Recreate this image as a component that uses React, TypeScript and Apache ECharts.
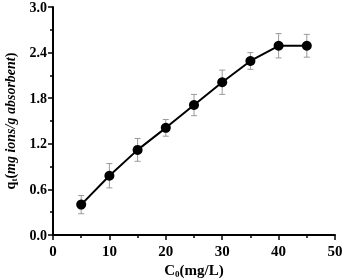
import React, { useEffect, useRef } from "react";
import * as echarts from "echarts";

const concentrations = [5, 10, 15, 20, 25, 30, 35, 40, 45];
const uptake = [0.4, 0.78, 1.12, 1.41, 1.71, 2.01, 2.29, 2.49, 2.49];
const uptakeError = [0.12, 0.16, 0.15, 0.11, 0.14, 0.16, 0.11, 0.16, 0.15];

export default function App() {
  const ref = useRef<HTMLDivElement>(null);
  useEffect(() => {
    if (!ref.current) return;
    const chart = echarts.init(ref.current, undefined, { renderer: "svg" });
    const font = "'Liberation Serif', 'Times New Roman', serif";
    const errData = concentrations.map((c, i) => [c, uptake[i] - uptakeError[i], uptake[i] + uptakeError[i]]);
    chart.setOption({
      animation: false,
      grid: { left: 53, right: 9, top: 7, bottom: 45, containLabel: false, outerBoundsMode: "none" },
      xAxis: {
        type: "value",
        min: 0,
        max: 50,
        interval: 10,
        name: "{b|C}{s|0}{b|(mg/L)}",
        nameLocation: "middle",
        nameGap: 25,
        nameTextStyle: {
          rich: {
            b: { fontFamily: font, fontWeight: "bold", fontSize: 15, color: "#000" },
            s: { fontFamily: font, fontWeight: "bold", fontSize: 9, color: "#000", verticalAlign: "bottom", padding: [8, 0, 0, 0] },
          },
        },
        splitLine: { show: false },
        axisLine: { lineStyle: { color: "#000", width: 2 } },
        axisTick: { inside: false, length: 5, lineStyle: { width: 1.5, color: "#000" } },
        minorTick: { show: true, splitNumber: 2, length: 3, lineStyle: { width: 1.5, color: "#000" } },
        axisLabel: { fontFamily: font, fontWeight: "bold", fontSize: 15, color: "#000", margin: 8 },
      },
      yAxis: {
        type: "value",
        min: 0,
        max: 3,
        interval: 0.6,
        name: "{b|q}{s|t}{b|(}{i|mg ions/g absorbent}{b|)}",
        nameLocation: "middle",
        nameRotate: 90,
        nameGap: 31,
        nameTextStyle: {
          rich: {
            b: { fontFamily: font, fontWeight: "bold", fontSize: 14, color: "#000" },
            i: { fontFamily: font, fontWeight: "bold", fontStyle: "italic", fontSize: 14, color: "#000" },
            s: { fontFamily: font, fontWeight: "bold", fontSize: 9, color: "#000", verticalAlign: "bottom", padding: [8, 0, 0, 0] },
          },
        },
        splitLine: { show: false },
        axisLine: { show: true, lineStyle: { color: "#000", width: 2 } },
        axisTick: { show: true, inside: false, length: 5, lineStyle: { width: 1.5, color: "#000" } },
        minorTick: { show: true, splitNumber: 2, length: 3, lineStyle: { width: 1.5, color: "#000" } },
        axisLabel: {
          fontFamily: font,
          fontWeight: "bold",
          fontSize: 14,
          lineHeight: 14,
          color: "#000",
          margin: 6,
          formatter: (v: number) => v.toFixed(1),
        },
      },
      series: [
        {
          type: "custom",
          data: errData,
          z: 1,
          renderItem: (params: any, api: any) => {
            const x = api.value(0);
            const lo = api.coord([x, api.value(1)]);
            const hi = api.coord([x, api.value(2)]);
            const w = 3;
            const style = { stroke: "#9a9a9a", lineWidth: 1 };
            return {
              type: "group",
              children: [
                { type: "line", shape: { x1: lo[0], y1: lo[1], x2: hi[0], y2: hi[1] }, style },
                { type: "line", shape: { x1: lo[0] - w, y1: lo[1], x2: lo[0] + w, y2: lo[1] }, style },
                { type: "line", shape: { x1: hi[0] - w, y1: hi[1], x2: hi[0] + w, y2: hi[1] }, style },
              ],
            };
          },
        },
        {
          type: "line",
          data: concentrations.map((c, i) => [c, uptake[i]]),
          z: 2,
          symbol: "circle",
          symbolSize: 10,
          itemStyle: { color: "#000" },
          lineStyle: { color: "#000", width: 2 },
        },
      ],
    });
    return () => chart.dispose();
  }, []);
  return <div ref={ref} style={{ width: 344, height: 280, position: "fixed", left: 0, top: 0 }} />;
}
